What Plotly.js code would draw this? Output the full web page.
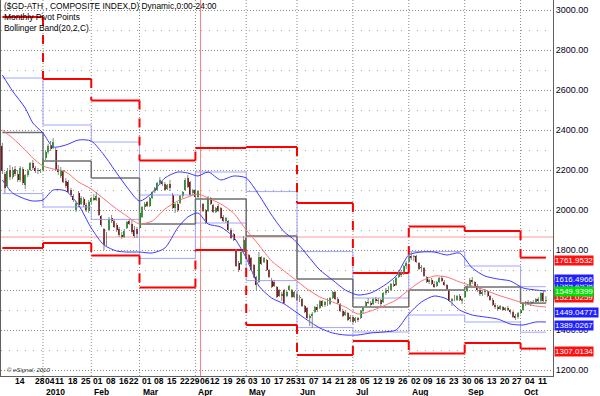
<!DOCTYPE html>
<html><head><meta charset="utf-8">
<script src="https://cdn.plot.ly/plotly-3.0.1.min.js"></script>
<style>html,body{margin:0;padding:0;background:#fff;}#chart{width:600px;height:396px;}</style>
</head><body><div id="chart"></div>
<script>
// ---- trading calendar (ATHEX) ----
const firstDay = '2009-12-08', lastDay = '2010-10-15';
const holidays = ['2009-12-24','2009-12-25','2010-01-01','2010-01-06','2010-02-15','2010-03-25','2010-04-02','2010-04-05','2010-05-24'];
function tradingDays(a, b, hol) {
  const out = []; let d = new Date(a + 'T00:00:00Z'); const e = new Date(b + 'T00:00:00Z');
  while (d <= e) { const s = d.toISOString().slice(0,10); const w = d.getUTCDay();
    if (w !== 0 && w !== 6 && hol.indexOf(s) < 0) out.push(s); d = new Date(d.getTime() + 86400000); }
  return out;
}
const dates = tradingDays(firstDay, lastDay, holidays);

// ---- daily OHLC ----
const open = [
 2320,2180,2120,2200,2165,2205,2180,2150,2205,2125,2175,2200,2235,2210,2195,2200,
 2200,2260,2290,2320,2310,2300,2205,2170,2195,2145,2140,2100,2070,2000,2085,2030,2055,2025,1995,
 2040,2060,2050,2060,1970,1905,1830,1900,1960,1945,1925,1905,1875,1865,1910,1945,1930,1900,1905,
 1910,1965,2015,2040,2020,2060,2095,2100,2135,2140,2130,2105,2130,2075,2010,2030,2035,2070,2100,2160,2140,2085,
 2100,2065,2050,2030,2000,1995,2060,2025,1990,2020,2010,1965,1945,1945,1900,1880,1800,1735,1730,1790,
 1860,1775,1760,1725,1665,1640,1765,1740,1750,1700,1650,1640,1615,1600,1570,1600,1570,1600,1600,1565,
 1580,1560,1555,1520,1510,1460,1470,1490,1515,1510,1545,1525,1540,1530,1560,1590,1555,1530,1495,1475,1485,1455,
 1465,1445,1460,1460,1495,1520,1540,1535,1530,1555,1545,1550,1540,1585,1600,1600,1630,1625,1665,1690,1680,1720,
 1740,1770,1765,1770,1735,1710,1710,1665,1640,1650,1630,1620,1640,1660,1640,1625,1600,1545,1560,1550,1570,1545,
 1565,1595,1620,1650,1640,1620,1600,1580,1590,1595,1570,1550,1525,1515,1505,1515,1500,1510,1500,1490,1470,1465,
 1485,1500,1535,1540,1530,1540,1540,1555,1545,1585,1545];
const high = [
 2335,2190,2210,2225,2215,2220,2200,2220,2215,2180,2205,2240,2250,2220,2210,2205,
 2270,2300,2330,2345,2360,2310,2225,2215,2200,2160,2150,2110,2080,2045,2095,2070,2065,2035,2050,
 2065,2080,2090,2065,1975,1910,1890,1965,1975,1955,1935,1915,1890,1905,1945,1955,1950,1920,1915,
 1990,2020,2040,2045,2065,2095,2115,2140,2165,2150,2140,2130,2150,2085,2035,2040,2075,2095,2160,2175,2145,2105,
 2105,2100,2060,2035,2005,2070,2065,2030,2015,2030,2015,1975,1965,1950,1910,1885,1805,1745,1795,1870,
 1870,1780,1765,1730,1670,1790,1770,1765,1755,1705,1660,1650,1620,1605,1590,1605,1595,1625,1605,1595,
 1590,1575,1560,1525,1515,1480,1490,1520,1530,1550,1550,1545,1560,1565,1595,1595,1565,1535,1505,1500,1490,1475,
 1470,1465,1465,1500,1515,1545,1560,1545,1560,1565,1560,1555,1590,1610,1620,1635,1650,1665,1700,1700,1725,1745,
 1780,1790,1775,1775,1740,1725,1715,1670,1655,1660,1645,1645,1665,1670,1650,1630,1605,1560,1575,1575,1580,1560,
 1600,1625,1660,1665,1645,1630,1610,1600,1605,1600,1575,1560,1535,1525,1525,1520,1515,1520,1505,1495,1480,1490,
 1505,1540,1545,1550,1545,1550,1560,1565,1590,1595,1570];
const low = [
 2180,2085,2110,2150,2155,2170,2140,2140,2125,2105,2165,2195,2200,2185,2180,2185,
 2195,2250,2280,2295,2305,2195,2175,2160,2135,2110,2085,2065,2040,1990,2015,2025,2015,1990,1985,
 2030,2045,2045,1970,1915,1800,1820,1895,1935,1910,1890,1865,1855,1860,1905,1925,1880,1860,1860,
 1905,1960,2000,2015,2015,2055,2085,2095,2125,2120,2095,2100,2095,2005,1985,1990,2030,2060,2095,2110,2070,2075,
 2060,2060,2010,1990,1930,1990,2025,1985,1985,1990,1955,1940,1935,1895,1855,1845,1715,1690,1725,1785,
 1765,1725,1695,1660,1600,1635,1725,1735,1695,1660,1610,1615,1560,1565,1545,1530,1565,1595,1560,1560,
 1545,1540,1515,1485,1455,1420,1410,1485,1490,1505,1515,1515,1520,1525,1555,1550,1530,1490,1465,1470,1445,1440,
 1430,1435,1440,1455,1480,1515,1530,1515,1525,1535,1530,1520,1535,1575,1585,1595,1615,1620,1660,1665,1675,1705,
 1735,1750,1745,1735,1700,1690,1665,1635,1630,1625,1610,1615,1635,1640,1620,1600,1540,1520,1545,1545,1545,1530,
 1560,1590,1615,1630,1610,1590,1570,1570,1575,1565,1545,1520,1505,1495,1500,1495,1495,1495,1480,1460,1450,1455,
 1480,1495,1520,1525,1520,1530,1535,1535,1540,1540,1535];
const close = [
 2195,2110,2195,2165,2200,2180,2150,2210,2135,2175,2195,2235,2210,2195,2200,2195,
 2260,2290,2320,2305,2340,2205,2190,2200,2140,2120,2090,2075,2050,2035,2025,2060,2025,2000,2040,
 2060,2050,2070,1975,1925,1825,1880,1955,1945,1915,1900,1875,1865,1895,1940,1930,1890,1870,1880,
 1985,2015,2030,2020,2060,2090,2110,2135,2150,2130,2100,2125,2110,2010,2030,2000,2070,2090,2150,2115,2075,2100,
 2065,2095,2015,1995,1935,2060,2030,1990,2010,1995,1960,1945,1960,1900,1860,1850,1720,1700,1790,1850,
 1770,1730,1700,1665,1625,1765,1730,1760,1700,1665,1615,1620,1565,1570,1580,1535,1590,1620,1565,1590,
 1550,1565,1520,1490,1460,1470,1480,1515,1500,1545,1520,1540,1530,1560,1590,1555,1535,1495,1470,1490,1450,1465,
 1440,1460,1450,1495,1510,1540,1535,1525,1555,1545,1550,1530,1585,1600,1595,1630,1620,1660,1690,1675,1720,1735,
 1770,1760,1770,1740,1705,1715,1670,1640,1650,1630,1615,1640,1660,1645,1625,1605,1545,1555,1550,1570,1550,1555,
 1595,1620,1650,1640,1620,1600,1580,1590,1595,1570,1550,1525,1515,1505,1520,1500,1510,1500,1490,1465,1460,1485,
 1500,1535,1540,1530,1540,1535,1555,1545,1585,1545,1549.94];

const bbDates = ['2009-12-08','2009-12-14','2009-12-21','2009-12-28','2010-01-04','2010-01-11','2010-01-18','2010-01-25','2010-02-01','2010-02-08','2010-02-16','2010-02-22','2010-03-01','2010-03-08','2010-03-15','2010-03-22','2010-03-29','2010-04-06','2010-04-12','2010-04-19','2010-04-26','2010-05-03','2010-05-10','2010-05-17','2010-05-25','2010-05-31','2010-06-07','2010-06-14','2010-06-21','2010-06-28','2010-07-05','2010-07-12','2010-07-19','2010-07-26','2010-08-02','2010-08-09','2010-08-16','2010-08-23','2010-08-30','2010-09-06','2010-09-13','2010-09-20','2010-09-27','2010-10-04','2010-10-11','2010-10-15'];
const bbUpper = [2675,2595,2510,2435,2385,2315,2325,2350,2345,2275,2185,2115,2045,2085,2160,2190,2185,2170,2190,2150,2170,2160,2075,1975,1890,1850,1775,1700,1650,1600,1575,1585,1620,1670,1775,1790,1790,1775,1785,1710,1670,1655,1645,1610,1600,1595];
const bbMiddle = [2400,2360,2300,2260,2220,2205,2190,2140,2105,2055,2005,1970,1930,1945,2005,2045,2065,2080,2060,2030,1985,1900,1825,1745,1695,1655,1605,1565,1540,1515,1480,1495,1520,1550,1600,1645,1670,1665,1640,1620,1600,1575,1555,1535,1520,1515];
const bbLower = [2150,2085,2055,2045,2050,2100,2095,2025,1910,1825,1795,1790,1790,1785,1810,1910,1965,1985,1930,1915,1865,1760,1620,1560,1530,1495,1450,1410,1385,1375,1375,1385,1390,1400,1480,1540,1570,1555,1500,1475,1465,1455,1430,1425,1440,1440];

// ---- Monthly pivot points ----
const pivotStarts = ['2009-12-08','2010-01-04','2010-02-01','2010-03-01','2010-04-01','2010-05-03','2010-06-01','2010-07-01','2010-08-02','2010-09-01','2010-10-01'];
const pivotR2 = [2965,2655,2547,2247,2310,2315,2035,1685,1917,1895,1761.9532];
const pivotR1 = [2660,2425,2340,2075,2190,2092,1792,1560,1792,1720,1616.4966];
const pivotPP = [2387,2245,2160,1930,2055,1870,1655,1515,1600,1615,1534.4848];
const pivotS1 = [2082,2015,1953,1758,1935,1647,1412,1390,1475,1440,1389.0267];
const pivotS2 = [1810,1835,1773,1613,1800,1425,1275,1345,1283,1335,1307.0134];

// ---- axis labels ----
const weekTicks = ['2009-12-14','2009-12-28','2010-01-04','2010-01-11','2010-01-18','2010-01-25','2010-02-01','2010-02-08','2010-02-16','2010-02-22','2010-03-01','2010-03-08','2010-03-15','2010-03-22','2010-03-29','2010-04-06','2010-04-12','2010-04-19','2010-04-26','2010-05-03','2010-05-10','2010-05-17','2010-05-25','2010-05-31','2010-06-07','2010-06-14','2010-06-21','2010-06-28','2010-07-05','2010-07-12','2010-07-19','2010-07-26','2010-08-02','2010-08-09','2010-08-16','2010-08-23','2010-08-30','2010-09-06','2010-09-13','2010-09-20','2010-09-27','2010-10-04','2010-10-11'];
const monthStarts = ['2010-01-04','2010-02-01','2010-03-01','2010-04-01','2010-05-03','2010-06-01','2010-07-01','2010-08-02','2010-09-01','2010-10-01'];
const monthNames = ['2010','Feb','Mar','Apr','May','Jun','Jul','Aug','Sep','Oct'];
const cursorDate = '2010-04-07', cursorPrice = 1865;

// right-edge value labels [text, bg, text colour, y position]
const priceLabels = [
 ['1589.4958','#2020ff','#fff',1621],
 ['1616.4966','#2020ff','#fff',1652],
 ['1534.4848','#000000','#fff',1577],
 ['1521.0259','#ff1010','#fff',1561],
 ['1549.9399','#00e000','#fff',1594],
 ['1761.9532','#ff1010','#fff',1750],
 ['1449.04771','#2020ff','#fff',1490],
 ['1389.0267','#2020ff','#fff',1423],
 ['1307.0134','#ff1010','#fff',1293]];

const FONT = 'Liberation Sans, Arial, sans-serif';
const idx = d => dates.indexOf(d);
const endDate = dates[dates.length - 1];

function stepSegments(levels) {
  const hx = [], hy = [], vx = [], vy = [];
  for (let i = 0; i < levels.length; i++) {
    const x1 = i + 1 < pivotStarts.length ? pivotStarts[i + 1] : endDate;
    hx.push(pivotStarts[i], x1, null); hy.push(levels[i], levels[i], null);
    if (i + 1 < levels.length) { vx.push(pivotStarts[i + 1], pivotStarts[i + 1], null); vy.push(levels[i], levels[i + 1], null); }
  }
  return {hx, hy, vx, vy};
}
const traces = [];
function addLevel(levels, color, width, vdash) {
  const s = stepSegments(levels);
  traces.push({type:'scatter', mode:'lines', x:s.vx, y:s.vy, line:{color:color, width:width, dash:vdash}, hoverinfo:'skip', connectgaps:false});
  traces.push({type:'scatter', mode:'lines', x:s.hx, y:s.hy, line:{color:color, width:width}, hoverinfo:'skip', connectgaps:false});
}
addLevel(pivotR1, '#a4a4ff', 1, 'solid');
addLevel(pivotS1, '#a4a4ff', 1, 'solid');
addLevel(pivotPP, '#6e6e6e', 1.5, 'solid');
addLevel(pivotR2, '#ff0000', 2, 'dash');
addLevel(pivotS2, '#ff0000', 2, 'dash');

traces.push({type:'scatter', mode:'lines', x:bbDates, y:bbUpper, line:{color:'#3a3aff', width:1, shape:'spline', smoothing:0.7}, hoverinfo:'skip'});
traces.push({type:'scatter', mode:'lines', x:bbDates, y:bbLower, line:{color:'#3a3aff', width:1, shape:'spline', smoothing:0.7}, hoverinfo:'skip'});
traces.push({type:'scatter', mode:'lines', x:bbDates, y:bbMiddle, line:{color:'#ff7070', width:1, shape:'spline', smoothing:0.7}, hoverinfo:'skip'});

// candles: gray wicks + coloured bodies
const wickX = [], wickY = [];
dates.forEach((d, i) => { wickX.push(d, d, null); wickY.push(low[i], high[i], null); });
traces.push({type:'scatter', mode:'lines', x:wickX, y:wickY, line:{color:'#858585', width:1}, hoverinfo:'skip', connectgaps:false});
traces.push({type:'bar', x:dates, base:open, y:close.map((c, i) => c - open[i]), width:0.78,
  marker:{color:close.map((c, i) => c >= open[i] ? '#00a000' : '#800000'), line:{width:0}}, hoverinfo:'skip'});

const shapes = monthStarts.map(d => ({type:'line', layer:'below', xref:'x', yref:'paper', x0:idx(d), x1:idx(d), y0:0, y1:1,
  line:{color:'#8c8c8c', width:1, dash:'1px,2px'}}));
shapes.push({type:'line', layer:'below', xref:'x', yref:'paper', x0:idx(cursorDate), x1:idx(cursorDate), y0:0, y1:1, line:{color:'#ff8080', width:1}});
shapes.push({type:'line', layer:'below', xref:'paper', yref:'y', x0:0, x1:1, y0:cursorPrice, y1:cursorPrice, line:{color:'#ff9a9a', width:1}});

const annotations = [];
annotations.push({xref:'paper', yref:'paper', x:0, y:1, xanchor:'left', yanchor:'top', xshift:1, yshift:1, align:'left', showarrow:false,
  text:'($GD-ATH , COMPOSITE INDEX,D) Dynamic,0:00-24:00<br>Monthly Pivot Points<br>Bollinger Band(20,2,C)',
  font:{family:FONT, size:8.4, color:'#000'}});
annotations.push({xref:'paper', yref:'paper', x:0, y:0, xanchor:'left', yanchor:'bottom', xshift:4, yshift:1, showarrow:false,
  text:'© eSignal, 2010', font:{family:FONT, size:6, color:'#333', style:'italic'}});
weekTicks.forEach(d => annotations.push({xref:'x', yref:'paper', x:idx(d), y:0, xanchor:'left', yanchor:'middle', xshift:0, yshift:-5,
  showarrow:false, text:d.slice(8), font:{family:FONT, size:8.5, color:'#000', weight:'bold'}}));
monthStarts.forEach((d, i) => annotations.push({xref:'x', yref:'paper', x:idx(d), y:0, xanchor:'left', yanchor:'middle', xshift:1, yshift:-16,
  showarrow:false, text:monthNames[i], font:{family:FONT, size:8.5, color:'#000', weight:'bold'}}));
priceLabels.forEach(p => annotations.push({xref:'paper', yref:'y', x:1, y:p[3], xanchor:'left', yanchor:'middle', xshift:1,
  showarrow:false, text:p[0], bgcolor:p[1], borderpad:0, font:{family:FONT, size:8, color:p[2]}}));

const layout = {
  width:600, height:396, margin:{l:1, r:47, t:0, b:20}, paper_bgcolor:'#fff', plot_bgcolor:'#fff', showlegend:false,
  bargap:0,
  xaxis:{type:'category', categoryorder:'array', categoryarray:dates, range:[-0.535, 216.78],
    showticklabels:false, ticks:'', showgrid:false, showline:true, linecolor:'#606060', linewidth:1, zeroline:false, fixedrange:true},
  yaxis:{side:'right', range:[1170, 3050], tickmode:'linear', tick0:1200, dtick:200, tickformat:'.2f', ticks:'',
    tickfont:{family:FONT, size:9, color:'#000020'}, showgrid:true, gridcolor:'#8c8c8c', griddash:'1px,2px', gridwidth:1,
    minor:{tickmode:'linear', tick0:1100, dtick:200, showgrid:true, gridcolor:'#a0a0a0', griddash:'1px,7px'},
    showline:true, mirror:true, linecolor:'#606060', linewidth:1, zeroline:false, fixedrange:true},
  shapes:shapes, annotations:annotations
};
Plotly.newPlot('chart', traces, layout, {staticPlot:true, displayModeBar:false});
</script></body></html>
